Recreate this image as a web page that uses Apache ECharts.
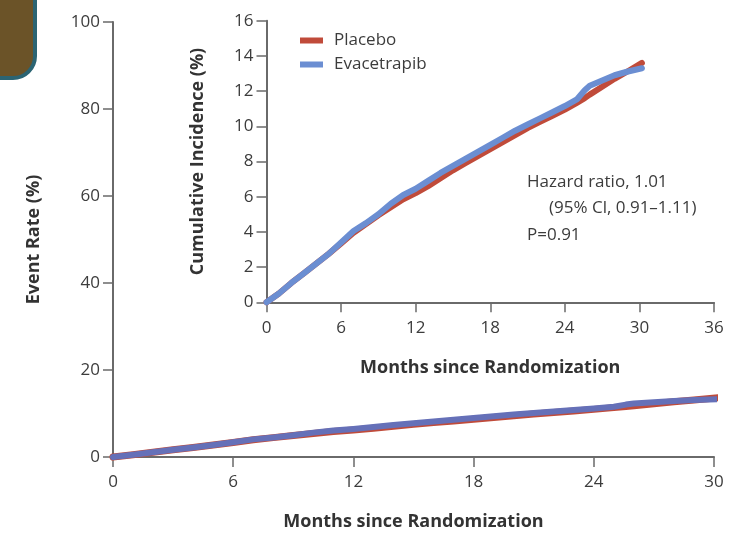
<!DOCTYPE html>
<html>
<head>
<meta charset="utf-8">
<script src="https://cdn.jsdelivr.net/npm/echarts@6.0.0/dist/echarts.min.js"></script>
<style>
  html, body { margin: 0; padding: 0; background: #ffffff; }
  #chart { width: 748px; height: 534px; }
</style>
</head>
<body>
<div id="chart"></div>
<script>
// Follow-up time (months since randomization)
var months = [0, 1, 2, 3, 4, 5, 6, 7, 8, 9, 10, 11, 12, 13, 14, 15, 16, 17, 18, 19, 20,
              21, 22, 23, 24, 25, 25.6, 26, 27, 28, 29, 30.2];
// Cumulative incidence (%) of the primary end point
var placebo = [0, 0.5, 1.1, 1.65, 2.2, 2.75, 3.35, 3.95, 4.45, 4.95, 5.4, 5.85, 6.2, 6.6, 7.05, 7.5,
               7.9, 8.3, 8.7, 9.1, 9.5, 9.9, 10.25, 10.6, 10.95, 11.35, 11.6, 11.8, 12.25, 12.7, 13.1, 13.6];
var evacetrapib = [0, 0.5, 1.1, 1.65, 2.2, 2.75, 3.4, 4.05, 4.5, 5.0, 5.6, 6.1, 6.45, 6.9, 7.35, 7.75,
                   8.15, 8.55, 8.95, 9.35, 9.75, 10.1, 10.45, 10.8, 11.15, 11.55, 12.05, 12.3, 12.6, 12.9, 13.1, 13.3];

var mainXTicks = [0, 6, 12, 18, 24, 30];
var mainYTicks = [0, 20, 40, 60, 80, 100];
var insetXTicks = [0, 6, 12, 18, 24, 30, 36];
var insetYTicks = [0, 2, 4, 6, 8, 10, 12, 14, 16];

var seriesNames = ['Placebo', 'Evacetrapib'];

function pairs(xs, ys) {
  return xs.map(function (x, i) { return [x, ys[i]]; });
}

var FONT = '"Open Sans", "Noto Sans", sans-serif';
var TEXT = '#3c3c3c';
var AXIS = '#6a6a6a';
var RED = '#c04b3a';
var BLUE = '#6b8ed2';
var MAIN_BLUE = '#6570b8';

function valueAxis(opts) {
  return {
    type: 'value',
    min: opts.ticks[0],
    max: opts.ticks[opts.ticks.length - 1],
    interval: opts.ticks[1] - opts.ticks[0],
    gridIndex: opts.grid,
    name: opts.name,
    nameLocation: 'middle',
    nameGap: opts.nameGap,
    nameTextStyle: { fontFamily: FONT, fontSize: 18, fontWeight: 'bold', color: '#333' },
    axisLine: { show: true, lineStyle: { color: AXIS, width: 2 } },
    axisTick: { show: true, inside: false, length: 10, lineStyle: { color: AXIS, width: 1.5 } },
    axisLabel: { fontFamily: FONT, fontSize: 17, color: TEXT, margin: opts.labelMargin },
    splitLine: { show: false }
  };
}

var chart = echarts.init(document.getElementById('chart'), null, { renderer: 'canvas' });

chart.setOption({
  backgroundColor: '#ffffff',
  animation: false,
  grid: [
    { left: 113, right: 34, top: 22, bottom: 77, outerBoundsMode: 'none', containLabel: false },
    { left: 266.5, right: 34, top: 20.7, bottom: 231.7, outerBoundsMode: 'none', containLabel: false }
  ],
  xAxis: [
    valueAxis({ grid: 0, ticks: mainXTicks, name: 'Months since Randomization', nameGap: 56, labelMargin: 17 }),
    valueAxis({ grid: 1, ticks: insetXTicks, name: 'Months since Randomization', nameGap: 57, labelMargin: 17 })
  ],
  yAxis: [
    valueAxis({ grid: 0, ticks: mainYTicks, name: 'Event Rate (%)', nameGap: 70, labelMargin: 13 }),
    valueAxis({ grid: 1, ticks: insetYTicks, name: 'Cumulative Incidence (%)', nameGap: 60, labelMargin: 13 })
  ],
  legend: {
    orient: 'vertical',
    left: 295,
    top: 27,
    itemWidth: 23,
    itemHeight: 6,
    itemGap: 7,
    icon: 'rect',
    textStyle: { fontFamily: FONT, fontSize: 17, color: TEXT, padding: [0, 0, 0, 6] },
    data: [
      { name: seriesNames[0], itemStyle: { color: RED } },
      { name: seriesNames[1], itemStyle: { color: BLUE } }
    ]
  },
  series: [
    {
      name: seriesNames[0], type: 'line', xAxisIndex: 0, yAxisIndex: 0,
      data: pairs(months, placebo), showSymbol: false, clip: false,
      lineStyle: { color: RED, width: 7, cap: 'round', join: 'round' }, itemStyle: { color: RED }
    },
    {
      name: seriesNames[1], type: 'line', xAxisIndex: 0, yAxisIndex: 0,
      data: pairs(months, evacetrapib), showSymbol: false, clip: false,
      lineStyle: { color: MAIN_BLUE, width: 6, cap: 'round', join: 'round' }, itemStyle: { color: MAIN_BLUE }
    },
    {
      name: seriesNames[0], type: 'line', xAxisIndex: 1, yAxisIndex: 1,
      data: pairs(months, placebo), showSymbol: false, clip: false,
      lineStyle: { color: RED, width: 6, cap: 'round', join: 'round' }, itemStyle: { color: RED }
    },
    {
      name: seriesNames[1], type: 'line', xAxisIndex: 1, yAxisIndex: 1,
      data: pairs(months, evacetrapib), showSymbol: false, clip: false,
      lineStyle: { color: BLUE, width: 6, cap: 'round', join: 'round' }, itemStyle: { color: BLUE }
    }
  ],
  graphic: [
    {
      type: 'rect', left: -12, top: -12,
      shape: { width: 45, height: 88, r: [0, 0, 22, 0] },
      style: { fill: '#6b5328', stroke: '#2b6473', lineWidth: 4 }
    },
    {
      type: 'text', left: 527, top: 174,
      style: { text: 'Hazard ratio, 1.01', fontFamily: FONT, fontSize: 17, fill: TEXT }
    },
    {
      type: 'text', left: 549, top: 200,
      style: { text: '(95% Cl, 0.91\u20131.11)', fontFamily: FONT, fontSize: 17, fill: TEXT }
    },
    {
      type: 'text', left: 527, top: 227,
      style: { text: 'P=0.91', fontFamily: FONT, fontSize: 17, fill: TEXT }
    }
  ]
});
</script>
</body>
</html>
